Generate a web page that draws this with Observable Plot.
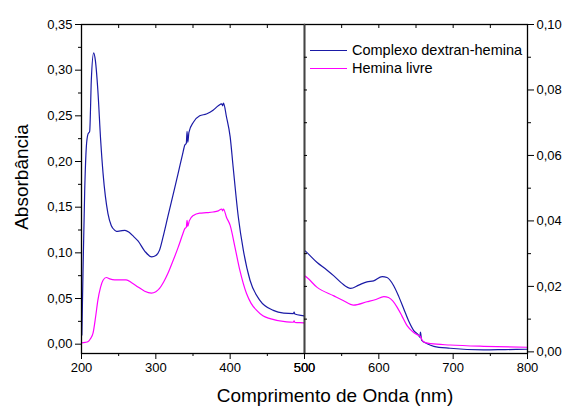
<!DOCTYPE html>
<html><head><meta charset="utf-8">
<script src="https://cdn.jsdelivr.net/npm/d3@7"></script>
<script src="https://cdn.jsdelivr.net/npm/@observablehq/plot@0.6"></script>
<style>
body{margin:0;background:#fff;}
#chart{position:relative;width:565px;height:412px;font-family:"Liberation Sans",Arial,sans-serif;}
#chart svg{position:absolute;left:0;top:0;}
#legend{position:absolute;left:310px;top:41px;font-size:14.5px;color:#000;line-height:18px;}
#legend .row{display:flex;align-items:center;white-space:nowrap;}
#legend .sw{display:inline-block;width:37px;height:0;border-top:1.3px solid;margin-right:5px;}
</style></head><body><div id="chart"><div id="legend"></div></div>
<script>
// Series names and colours
const seriesNames = ["Complexo dextran-hemina", "Hemina livre"];
const seriesColors = ["#1a1aa6", "#ff00ff"];

// Complexo dextran-hemina: wavelength (nm) and absorbance
const wlComplexo = [200.5,202,204.3,206.5,208.7,211,213.2,216.4,218.6,222,225.8,229,235.6,240,244.7,247,252,258.5,264,270,276,285,294.4,300,305,310.5,316,323,330,336,339,341,342,343,344.5,350.5,359,368,377,384,388.6,390,391,395,400,404,411,417.7,426.7,440,458,472,485,486,487,500,517,530,539.5,550,562,573,584,593,604.5,611,620,627,633.6,640,647,653.8,655,656,657.5,665,674,696,741,770,800];
const absComplexo = [0.010,0.078,0.168,0.216,0.230,0.233,0.289,0.319,0.311,0.278,0.223,0.187,0.143,0.130,0.1247,0.1236,0.1240,0.1247,0.1225,0.118,0.113,0.102,0.0955,0.097,0.103,0.120,0.139,0.163,0.187,0.208,0.218,0.220,0.233,0.221,0.232,0.243,0.250,0.252,0.256,0.261,0.263,0.261,0.264,0.249,0.227,0.194,0.139,0.103,0.070,0.048,0.037,0.034,0.0335,0.035,0.033,0.031,0.0273,0.025,0.0232,0.021,0.0194,0.0204,0.0214,0.0217,0.0230,0.0227,0.0202,0.0168,0.0131,0.0095,0.0065,0.0050,0.0045,0.0060,0.0036,0.0025,0.0017,0.0011,0.0006,0.0007,0.0008];

// Hemina livre: wavelength (nm) and absorbance
const wlHemina = [200,205,209,212,215.5,219,222,225.5,229,233.4,238,244.6,252,260,268,276,285,294,300,305,310.5,316,323,330,336,339,341,342,343,345,350.5,359,368,377,384,388.6,390,391,395,400,406.5,413,422,428,435.7,444,453.6,476,485,486,487,500,517,539.5,552,566,584,596,606.7,613,619,624.7,631,638,645,651.6,656,658,660.5,670,696,741,800];
const absHemina = [0.0015,0.002,0.003,0.006,0.012,0.030,0.048,0.062,0.070,0.073,0.0715,0.0705,0.0705,0.0705,0.067,0.0627,0.058,0.056,0.0575,0.061,0.068,0.077,0.091,0.106,0.120,0.1265,0.128,0.1356,0.129,0.135,0.141,0.1435,0.144,0.1447,0.146,0.148,0.146,0.148,0.139,0.130,0.106,0.081,0.0554,0.045,0.037,0.031,0.028,0.0244,0.024,0.0255,0.0238,0.0232,0.0197,0.0171,0.0157,0.0143,0.0153,0.016,0.0169,0.0166,0.0155,0.0136,0.011,0.008,0.0063,0.0052,0.0047,0.0037,0.003,0.0025,0.0021,0.0017,0.0014];

// Axis ticks
const xTicksUV = [200,300,400,500];
const xMinorUV = [250,350,450];
const xTopUV = [250,300,350,400,450];
const xTicksVis = [500,600,700,800];
const xMinorVis = [550,650,750];
const xTopVis = [550,600,650,700,750];
const yTicksLeft = [0,0.05,0.10,0.15,0.20,0.25,0.30,0.35];
const yMinorLeft = [0.025,0.075,0.125,0.175,0.225,0.275,0.325];
const yTicksRight = [0,0.02,0.04,0.06,0.08,0.10];
const yMinorRight = [0.01,0.03,0.05,0.07,0.09];
const yRightAll = [0.01,0.02,0.03,0.04,0.05,0.06,0.07,0.08,0.09];
const xLabel = "Comprimento de Onda (nm)";
const yLabel = "Absorbância";

const rows = (w, a, s) => w.map((d, i) => ({wl: d, abs: a[i], series: s}));
const data = [...rows(wlComplexo, absComplexo, seriesNames[0]), ...rows(wlHemina, absHemina, seriesNames[1])];
const fmt = d => d.toFixed(2).replace(".", ",");
const blank = () => "";

const W = 565, H = 412;
const common = {
  width: W, height: H, marginTop: 24, marginBottom: 59,
  style: {fontFamily: '"Liberation Sans", Arial, sans-serif', fontSize: "13px", background: "transparent", overflow: "visible", color: "#000"},
  color: {domain: seriesNames, range: seriesColors}
};
const lineOpts = {x: "wl", y: "abs", z: "series", stroke: "series", strokeWidth: 1.2, curve: "monotone-x", clip: true};

const left = Plot.plot({
  ...common, marginLeft: 81, marginRight: 261,
  x: {domain: [200, 500], axis: null},
  y: {domain: [-0.0102, 0.35], axis: null},
  marks: [
    Plot.line(data, lineOpts),
    Plot.frame({stroke: "#000", strokeWidth: 1.3}),
    Plot.axisY({ticks: yTicksLeft, tickSize: 6, tickFormat: fmt, label: null}),
    Plot.axisY({ticks: yMinorLeft, tickSize: 3, tickFormat: blank, label: null}),
    Plot.axisX({ticks: xTicksUV, tickSize: 6, tickFormat: d => String(d), label: null}),
    Plot.axisX({ticks: xMinorUV, tickSize: 3, tickFormat: blank, label: null}),
    Plot.axisX({anchor: "top", ticks: xTopUV, tickSize: 3, dy: 3, tickFormat: blank, label: null}),
    Plot.text([yLabel], {frameAnchor: "left", textAnchor: "middle", dx: -60, dy: -12, rotate: -90, fontSize: 19}),
    Plot.text([xLabel], {frameAnchor: "bottom", textAnchor: "middle", dx: 142, dy: 48, fontSize: 19})
  ]
});

const right = Plot.plot({
  ...common, marginLeft: 304, marginRight: 38,
  x: {domain: [500, 800], axis: null},
  y: {domain: [-0.0005, 0.10], axis: null},
  marks: [
    Plot.line(data, lineOpts),
    Plot.frame({stroke: "#000", strokeWidth: 1.3}),
    Plot.ruleX([500], {stroke: "#444", strokeWidth: 1.5}),
    Plot.axisY({anchor: "right", ticks: yTicksRight, tickSize: 6, tickFormat: fmt, label: null}),
    Plot.axisY({anchor: "right", ticks: yMinorRight, tickSize: 3, tickFormat: blank, label: null}),
    Plot.axisY({anchor: "left", ticks: yRightAll, tickSize: 3, dx: 3, tickFormat: blank, label: null}),
    Plot.axisX({ticks: xTicksVis, tickSize: 6, tickFormat: d => String(d), label: null}),
    Plot.axisX({ticks: xMinorVis, tickSize: 3, tickFormat: blank, label: null}),
    Plot.axisX({anchor: "top", ticks: xTopVis, tickSize: 3, dy: 3, tickFormat: blank, label: null})
  ]
});

const chart = document.getElementById("chart");
chart.appendChild(left);
chart.appendChild(right);

const legend = document.getElementById("legend");
seriesNames.forEach((name, i) => {
  const row = document.createElement("div");
  row.className = "row";
  const sw = document.createElement("span");
  sw.className = "sw";
  sw.style.borderTopColor = seriesColors[i];
  row.appendChild(sw);
  row.appendChild(document.createTextNode(name));
  legend.appendChild(row);
});
</script>
</body></html>
